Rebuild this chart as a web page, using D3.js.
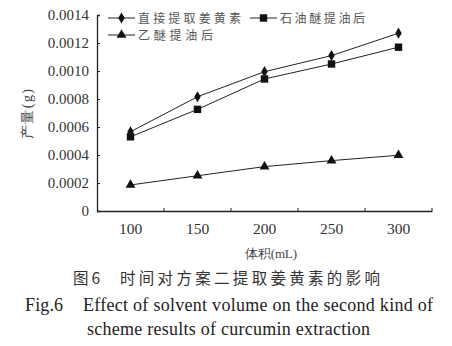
<!DOCTYPE html>
<html><head><meta charset="utf-8">
<script src="https://cdn.jsdelivr.net/npm/d3@7"></script>
<style>body{margin:0;background:#fff}svg{display:block}</style>
</head><body>
<svg id="c" width="452" height="346"></svg>
<script>
const categories = ["100","150","200","250","300"];
const seriesNames = ["直接提取姜黄素","石油醚提油后","乙醚提油后"];
const direct = [0.000566,0.000816,0.000995,0.00111,0.00127];
const petEther = [0.00053,0.000726,0.000943,0.00105,0.00117];
const ether = [0.000186,0.000252,0.000317,0.00036,0.000398];
const yTicks = [0,0.0002,0.0004,0.0006,0.0008,0.0010,0.0012,0.0014];
const yTickLabels = ["0","0.0002","0.0004","0.0006","0.0008","0.0010","0.0012","0.0014"];
const xTitle = "体积(mL)";
const yTitle = "产量(g)";
const caption1a = "图6", caption1b = "时间对方案二提取姜黄素的影响";
const caption2a = "Fig.6", caption2b = "Effect of solvent volume on the second kind of";
const caption3 = "scheme results of curcumin extraction";

const svg = d3.select("#c");
const L=97, R=432, T=15, B=211;
const x = d3.scaleBand().domain(categories).range([L,R]);
const y = d3.scaleLinear().domain([0,0.0014]).range([B,T]);
const serif = "'Liberation Serif','DejaVu Serif',serif";
const cjk = "'Noto Sans CJK SC',sans-serif";
const col = "#222";

function txt(s,xp,yp,font,size,fill,len,anchor){
  const t = svg.append("text").attr("x",xp).attr("y",yp).attr("font-family",font)
    .attr("font-size",size).attr("fill",fill).attr("text-anchor",anchor||"start").text(s);
  if(len) t.attr("textLength",len).attr("lengthAdjust","spacing");
  return t;
}

// y axis
const ya = svg.append("g").attr("transform",`translate(${L},0)`)
  .call(d3.axisRight(y).tickValues(yTicks).tickSize(3).tickFormat(""));
ya.select(".domain").attr("stroke",col).attr("stroke-width",1.3);
ya.selectAll(".tick line").attr("stroke",col);
svg.append("g").selectAll("text").data(yTicks).join("text")
  .attr("x",L-8).attr("y",d=>y(d)+5).attr("text-anchor","end")
  .attr("font-family",serif).attr("font-size",15).attr("fill","#333")
  .text((d,i)=>yTickLabels[i]);

// x axis
const xa = svg.append("g").attr("transform",`translate(0,${B})`)
  .call(d3.axisBottom(x).tickSize(0).tickFormat(""));
xa.select(".domain").attr("stroke",col).attr("stroke-width",1.3);
const bounds = categories.map(c=>x(c)+x.bandwidth());
svg.append("g").selectAll("line").data(bounds).join("line")
  .attr("x1",d=>d).attr("x2",d=>d).attr("y1",B).attr("y2",B-3).attr("stroke",col);
svg.append("g").selectAll("text").data(categories).join("text")
  .attr("x",d=>x(d)+x.bandwidth()/2).attr("y",B+23).attr("text-anchor","middle")
  .attr("font-family",serif).attr("font-size",15.5).attr("fill","#333").text(d=>d);

// titles
txt(xTitle,245,258,serif,13,"#444",52);
svg.append("text").attr("transform","translate(32,114) rotate(-90)").attr("text-anchor","middle")
  .attr("font-family",serif).attr("font-size",14).attr("fill","#444")
  .attr("textLength",50).attr("lengthAdjust","spacing").text(yTitle);

// series
const data = [direct, petEther, ether];
const shapes = [d3.symbolDiamond, d3.symbolSquare, d3.symbolTriangle];
const sizes = [36, 55, 42];
const line = d3.line().x((d,i)=>x(categories[i])+x.bandwidth()/2).y(d=>y(d));
data.forEach((s,k)=>{
  svg.append("path").attr("d",line(s)).attr("fill","none").attr("stroke",col).attr("stroke-width",1);
  svg.append("g").selectAll("path").data(s).join("path")
    .attr("transform",(d,i)=>`translate(${x(categories[i])+x.bandwidth()/2},${y(d)})`)
    .attr("d",d3.symbol(shapes[k],sizes[k])).attr("fill","#111");
});

// legend
const legPos = [[108,18],[250,18],[108,35]];
const legLen = [103,85,75];
seriesNames.forEach((n,k)=>{
  const [lx,ly]=legPos[k];
  svg.append("line").attr("x1",lx).attr("x2",lx+27).attr("y1",ly).attr("y2",ly).attr("stroke",col);
  svg.append("path").attr("transform",`translate(${lx+13.5},${ly})`).attr("d",d3.symbol(shapes[k],sizes[k])).attr("fill","#111");
  txt(n,lx+30,ly+5,cjk,12,"#555",legLen[k]);
});

// captions
txt(caption1a,73,284,cjk,15.5,"#333",27);
txt(caption1b,120,284,cjk,15.5,"#333",260);
txt(caption2a,25,311,serif,18,"#222",38);
txt(caption2b,83,311,serif,18,"#222",350);
txt(caption3,87,335,serif,18,"#222",283);
</script>
</body></html>
